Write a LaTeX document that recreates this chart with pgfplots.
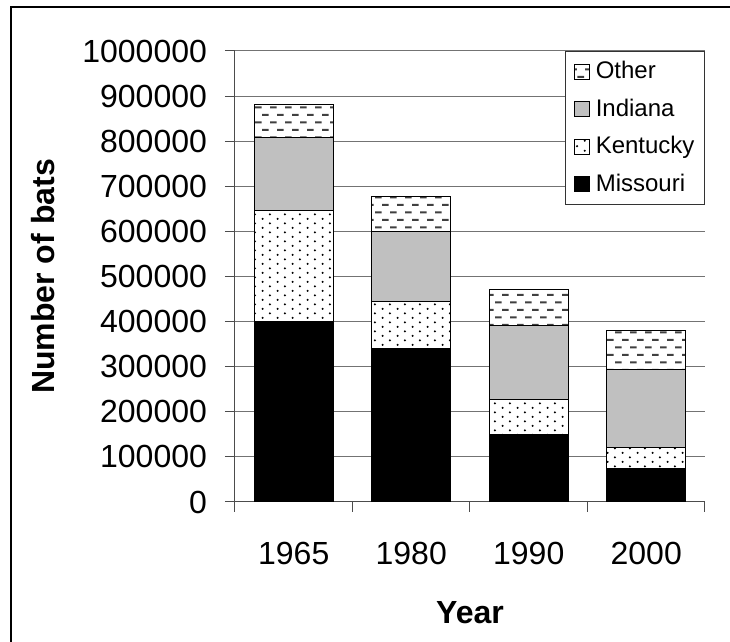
\documentclass[border=0pt]{standalone}
\usepackage{fontspec}
\setmainfont{Liberation Sans}
\usepackage{pgfplots}
\pgfplotsset{compat=1.18}
\usetikzlibrary{patterns}

\pgfdeclarepatternformonly{hdash}{\pgfqpoint{0pt}{0pt}}{\pgfqpoint{7.5pt}{7.7pt}}{\pgfqpoint{7.5pt}{7.7pt}}{%
  \pgfpathrectangle{\pgfqpoint{0pt}{1.4pt}}{\pgfqpoint{3.5pt}{1pt}}\pgfusepath{fill}%
  \pgfpathrectangle{\pgfqpoint{3.75pt}{5.25pt}}{\pgfqpoint{3.5pt}{1pt}}\pgfusepath{fill}%
}
\pgfdeclarepatternformonly{sdots}{\pgfqpoint{0pt}{0pt}}{\pgfqpoint{7.65pt}{4.7pt}}{\pgfqpoint{7.65pt}{4.7pt}}{%
  \pgfpathcircle{\pgfqpoint{1.9pt}{1.17pt}}{0.6pt}\pgfusepath{fill}%
  \pgfpathcircle{\pgfqpoint{5.73pt}{3.52pt}}{0.6pt}\pgfusepath{fill}%
}

\definecolor{indgray}{RGB}{192,192,192}

\pgfplotstableread{
x  Missouri Kentucky Indiana Other
0  400000   246000   163000  73000
1  340000   104000   156000  77000
2  149000   79000    163000  81000
3  73000    47000    174000  87000
}\bats

\begin{document}
\begin{tikzpicture}
\draw[line width=0.85pt] (-112pt,-100pt) rectangle (300pt,247.5pt);
\begin{axis}[
  scale only axis,
  width=235pt, height=225.5pt,
  ybar stacked,
  bar width=39.5pt,
  xmin=-0.5, xmax=3.5,
  ymin=0, ymax=1000000,
  ytick={0,100000,...,1000000},
  scaled y ticks=false,
  xtick={0,1,2,3},
  xticklabels={1965,1980,1990,2000},
  minor xtick={-0.5,0.5,1.5,2.5,3.5},
  major x tick style={draw=none},
  tick align=outside,
  major tick length=5pt,
  minor tick length=5pt,
  tick style={black!70, line width=0.5pt},
  axis lines*=left,
  axis line style={black!70, line width=0.5pt},
  ymajorgrids,
  major grid style={black!55, line width=0.5pt},
  /pgf/number format/assume math mode=true,
  y tick label style={/pgf/number format/fixed, /pgf/number format/1000 sep={}, xshift=-5.5pt},
  tick label style={font=\fontsize{16}{19}\selectfont},
  x tick label style={yshift=-11.5pt},
  ylabel={\textbf{Number of bats}},
  xlabel={\textbf{Year}},
  every axis y label/.style={at={(axis description cs:-0.4085,0.5)}, rotate=90, anchor=center, font=\fontsize{16}{19}\selectfont},
  every axis x label/.style={at={(axis description cs:0.5,-0.245)}, anchor=center, font=\fontsize{16}{19}\selectfont},
  legend image code/.code={\draw[#1, line width=0.4pt] (0pt,-3.75pt) rectangle (7.5pt,3.75pt);},
  reverse legend,
  legend cell align=left,
  legend style={at={(rel axis cs:1,1)}, anchor=north east, draw=black!80, line width=0.5pt,
    font=\fontsize{12}{14}\selectfont, inner xsep=4pt, inner ysep=4pt, row sep=6.5pt, column sep=2pt,
    nodes={inner sep=1pt}},
]
\addplot[fill=black, draw=black, line width=0.6pt] table[x=x, y=Missouri] {\bats};
\addlegendentry{Missouri}
\addplot[fill=white, draw=black, line width=0.6pt, postaction={pattern=sdots, pattern color=black}] table[x=x, y=Kentucky] {\bats};
\addlegendentry{Kentucky}
\addplot[fill=indgray, draw=black, line width=0.6pt] table[x=x, y=Indiana] {\bats};
\addlegendentry{Indiana}
\addplot[fill=white, draw=black, line width=0.6pt, postaction={pattern=hdash, pattern color=black!75}] table[x=x, y=Other] {\bats};
\addlegendentry{Other}
\end{axis}
\pgfresetboundingbox
\useasboundingbox (-117.5pt,-70pt) rectangle (247.5pt,251pt);
\end{tikzpicture}
\end{document}
